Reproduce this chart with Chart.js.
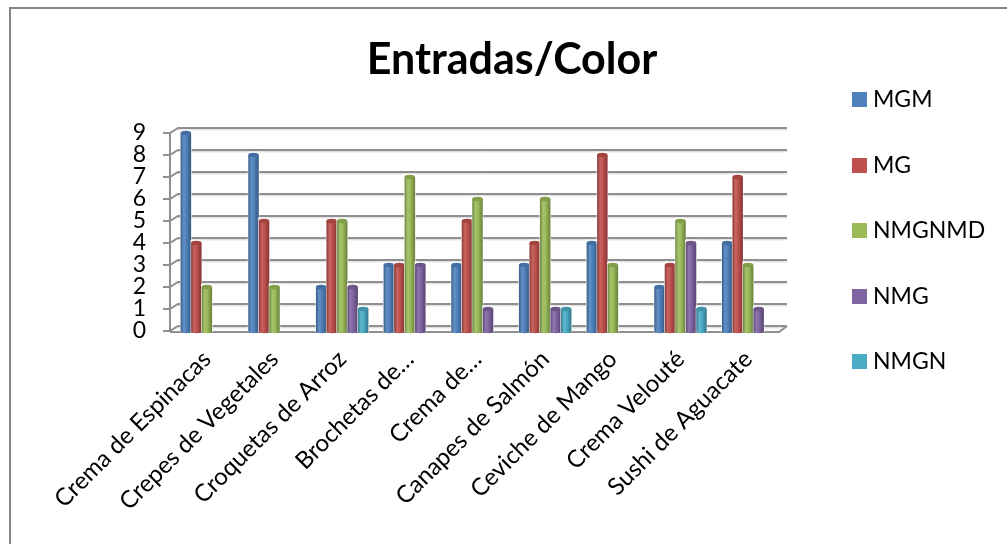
<!DOCTYPE html>
<html>
<head>
<meta charset="utf-8">
<script src="https://cdn.jsdelivr.net/npm/chart.js@4.4.1/dist/chart.umd.min.js"></script>
<style>
  html, body { margin: 0; padding: 0; background: #fff; }
  #wrap { position: relative; width: 1007px; height: 544px; }
</style>
</head>
<body>
<div id="wrap"><canvas id="c" width="1007" height="544"></canvas></div>
<script>
const chartTitle = 'Entradas/Color';
const categories = ['Crema de Espinacas', 'Crepes de Vegetales', 'Croquetas de Arroz', 'Brochetas de…', 'Crema de…', 'Canapes de Salmón', 'Ceviche de Mango', 'Crema Velouté', 'Sushi de Aguacate'];
const seriesNames = ['MGM', 'MG', 'NMGNMD', 'NMG', 'NMGN'];
const mgm    = [9, 8, 2, 3, 3, 3, 4, 2, 4];
const mg     = [4, 5, 5, 3, 5, 4, 8, 3, 7];
const nmgnmd = [2, 2, 5, 7, 6, 6, 3, 5, 3];
const nmg    = [0, 0, 2, 3, 1, 1, 0, 4, 1];
const nmgn   = [0, 0, 1, 0, 0, 1, 0, 1, 0];
const yTicks = [0, 1, 2, 3, 4, 5, 6, 7, 8, 9];
const seriesColors = ['#4F81BD', '#C0504D', '#9BBB59', '#8064A2', '#4BACC6'];
const seriesValues = [mgm, mg, nmgnmd, nmg, nmgn];

const FONT = 'Lato, "Open Sans", sans-serif';

function shade(hex, f) {
  const n = parseInt(hex.slice(1), 16);
  let r = (n >> 16) & 255, g = (n >> 8) & 255, b = n & 255;
  if (f < 1) { r *= f; g *= f; b *= f; }
  else { r = r + (255 - r) * (f - 1); g = g + (255 - g) * (f - 1); b = b + (255 - b) * (f - 1); }
  return 'rgb(' + Math.round(r) + ',' + Math.round(g) + ',' + Math.round(b) + ')';
}

const DX = 8, DY = -5;

const decor = {
  id: 'decor',
  beforeDraw(chart) {
    const ctx = chart.ctx;
    ctx.save();
    ctx.strokeStyle = '#878787';
    ctx.lineWidth = 2;
    ctx.beginPath();
    ctx.moveTo(10, 560); ctx.lineTo(10, 8); ctx.lineTo(1020, 8);
    ctx.stroke();
    ctx.restore();
  },
  beforeDatasetsDraw(chart) {
    const ctx = chart.ctx;
    const a = chart.chartArea;
    const ys = chart.scales.y;
    const L = a.left - 3, R = a.right + 5;
    ctx.save();
    ctx.lineCap = 'butt';
    yTicks.forEach(v => {
      const y = ys.getPixelForValue(v);
      ctx.strokeStyle = '#d4d4d4';
      ctx.lineWidth = 1;
      ctx.beginPath();
      ctx.moveTo(L + DX, y + DY + 1.8); ctx.lineTo(R, y + DY + 1.8);
      ctx.stroke();
      ctx.strokeStyle = '#8f8f8f';
      ctx.lineWidth = 2;
      ctx.beginPath();
      ctx.moveTo(L - 7, y); ctx.lineTo(L, y); ctx.lineTo(L + DX, y + DY); ctx.lineTo(R, y + DY);
      ctx.stroke();
    });
    const y0 = ys.getPixelForValue(0), y9 = ys.getPixelForValue(9);
    ctx.beginPath();
    ctx.moveTo(L, y0); ctx.lineTo(L, y9);
    ctx.stroke();
    ctx.beginPath();
    ctx.moveTo(L, y0 + 1); ctx.lineTo(R - DX, y0 + 1); ctx.lineTo(R, y0 + DY);
    ctx.stroke();
    ctx.restore();
  },
  afterDatasetsDraw(chart) {
    const ctx = chart.ctx;
    ctx.save();
    chart.data.datasets.forEach((ds, di) => {
      const meta = chart.getDatasetMeta(di);
      const base = ds.backgroundColor;
      meta.data.forEach((bar, i) => {
        if (!ds.data[i]) return;
        const p = bar.getProps(['x', 'y', 'base', 'width'], true);
        const x0 = p.x - p.width / 2, x1 = p.x + p.width / 2;
        const w = x1 - x0;
        const ry = 2.2;
        const g = ctx.createLinearGradient(x0, 0, x1, 0);
        g.addColorStop(0, shade(base, 0.72));
        g.addColorStop(0.3, shade(base, 1.12));
        g.addColorStop(0.55, shade(base, 1.0));
        g.addColorStop(1, shade(base, 0.68));
        ctx.fillStyle = '#ffffff';
        ctx.fillRect(x0 - 0.5, p.y - ry - 1, w + 1, p.base - p.y + ry + 2);
        ctx.fillStyle = g;
        ctx.beginPath();
        ctx.moveTo(x0, p.y);
        ctx.lineTo(x0, p.base);
        ctx.ellipse(p.x, p.base, w / 2, ry, 0, Math.PI, 0, true);
        ctx.lineTo(x1, p.y);
        ctx.closePath();
        ctx.fill();
        ctx.fillStyle = shade(base, 0.85);
        ctx.beginPath();
        ctx.ellipse(p.x, p.y, w / 2, ry, 0, 0, Math.PI * 2);
        ctx.fill();
      });
    });
    ctx.restore();
  },
  afterDraw(chart) {
    const ctx = chart.ctx;
    ctx.save();
    ctx.fillStyle = '#000';
    ctx.font = 'bold 43px ' + FONT;
    ctx.textAlign = 'center';
    ctx.textBaseline = 'alphabetic';
    ctx.fillText(chartTitle, 512, 74);
    ctx.font = '23px ' + FONT;
    ctx.textAlign = 'left';
    ctx.textBaseline = 'middle';
    const ly = [99, 165, 230, 296, 361];
    seriesNames.forEach((n, k) => {
      ctx.fillStyle = seriesColors[k];
      ctx.fillRect(852, ly[k] - 7, 15, 15);
      ctx.fillStyle = '#000';
      ctx.fillText(n, 873, ly[k] + 1);
    });
    ctx.restore();
  }
};

new Chart(document.getElementById('c'), {
  type: 'bar',
  data: {
    labels: categories,
    datasets: seriesNames.map((n, k) => ({
      label: n,
      data: seriesValues[k],
      backgroundColor: seriesColors[k],
      borderWidth: 0,
      barPercentage: 1.0,
      categoryPercentage: 0.775
    }))
  },
  options: {
    responsive: false,
    animation: false,
    events: [],
    layout: { padding: { left: 0, top: 133, right: 225, bottom: 0 } },
    plugins: { legend: { display: false }, title: { display: false }, tooltip: { enabled: false } },
    scales: {
      x: {
        grid: { display: false, drawTicks: false },
        border: { display: false },
        ticks: {
          color: '#000',
          font: { family: FONT, size: 24 },
          minRotation: 45, maxRotation: 45,
          padding: 14,
          autoSkip: false
        },
        afterFit(s) { s.height = 213; }
      },
      y: {
        min: 0, max: 9,
        grid: { display: false, drawTicks: false },
        border: { display: false },
        ticks: {
          stepSize: 1,
          autoSkip: false,
          color: '#000',
          font: { family: FONT, size: 23 },
          padding: 27
        },
        afterFit(s) { s.width = 173; }
      }
    }
  },
  plugins: [decor]
});
</script>
</body>
</html>
